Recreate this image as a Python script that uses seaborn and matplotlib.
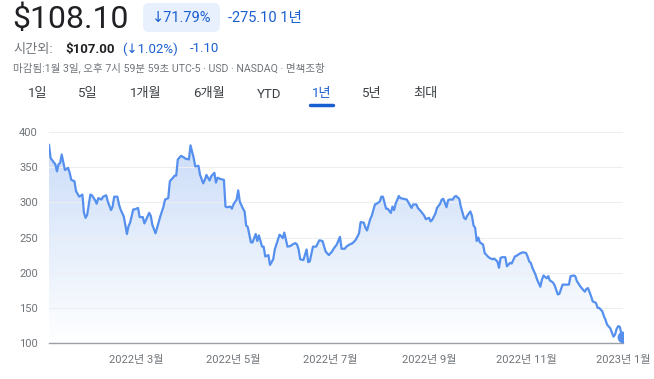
import matplotlib.dates as mdates
import matplotlib.pyplot as plt
import numpy as np
import pandas as pd
import seaborn as sns
from matplotlib.colors import LinearSegmentedColormap
from matplotlib.patches import FancyBboxPatch
from matplotlib.transforms import IdentityTransform

# Day of year (0 = 2022-01-01) for each point
day_of_year = [
    4, 5, 8, 9, 10, 11, 12, 14, 16, 17, 18, 20, 21, 23, 25, 26, 27, 28, 30, 31,
    33, 34, 35, 37, 38, 40, 41, 43, 44, 45, 47, 48, 49, 51, 52, 53, 54, 55, 57, 58,
    60, 61, 63, 64, 65, 67, 68, 69, 71, 72, 74, 76, 77, 79, 80, 82, 83, 84, 85, 87,
    88, 90, 92, 93, 95, 96, 98, 99, 101, 102, 103, 105, 106, 108, 109, 110, 112, 114, 115, 116,
    118, 119, 120, 122, 123, 124, 126, 127, 128, 129, 130, 131, 132, 134, 135, 136, 137, 138, 139, 140,
    142, 143, 145, 146, 148, 149, 150, 151, 152, 154, 156, 157, 159, 160, 161, 162, 164, 166, 167, 168,
    170, 171, 172, 174,
    176, 178, 180, 182, 183, 185, 187, 188, 190, 191, 193, 195, 197, 199, 200, 202, 203, 204, 206, 207,
    209, 210, 212, 213, 214, 216, 217, 219, 220, 221, 222, 224, 225, 227, 229, 230, 232, 233, 235, 236,
    238, 240, 241, 243, 244, 245, 247, 248, 250, 251, 252, 254, 255, 256, 258, 259, 260, 262, 263, 265,
    266, 267, 269, 270, 271, 272, 273, 274, 275, 277, 278, 280, 281, 283, 284, 286, 287, 288, 289, 291,
    292, 294, 295, 297, 298, 300, 302, 304, 305, 306, 307, 308, 310, 311, 313, 314, 315, 317, 318, 319,
    321, 322, 324, 325, 327, 328, 330, 331, 332, 334, 335, 336, 338, 339, 341, 342, 343, 345, 346, 348,
    349, 350, 352, 353, 354, 355, 357, 359, 360, 361, 362, 363, 364, 365,
]
prices = [
    382, 363, 354, 344, 354, 356, 368, 346, 349, 342, 332, 330, 316, 308, 311, 285, 278, 282, 311, 310,
    303, 298, 306, 304, 308, 310, 301, 289, 294, 308, 308, 297, 290, 280, 268, 255, 266, 271, 290, 290,
    292, 279, 279, 270, 275, 285, 281, 268, 256, 264, 280, 294, 304, 306, 330, 335, 338, 338, 361, 366,
    365, 362, 361, 381, 363, 351, 352, 339, 327, 332, 339, 331, 337, 342, 328, 335, 333, 332, 294, 293,
    294, 291, 297, 304, 317, 301, 291, 287, 267, 265, 254, 243, 243, 255, 245, 253, 245, 237, 237, 223,
    225, 211, 219, 233, 247, 254, 252, 249, 257, 237, 238, 240, 242, 240, 233, 219, 218, 233, 215, 216,
    237, 237, 237, 246,
    245, 230, 225, 230, 234, 240, 251, 234, 234, 237, 240, 242, 247, 256, 272, 271, 264, 260, 276, 281,
    297, 298, 301, 308, 308, 291, 291, 285, 294, 289, 298, 309, 306, 305, 304, 300, 292, 297, 297, 292,
    287, 281, 276, 278, 273, 275, 284, 292, 298, 304, 305, 293, 303, 304, 304, 308, 309, 305, 294, 278,
    276, 281, 287, 281, 267, 264, 245, 250, 243, 240, 228, 223, 221, 219, 220, 216, 207, 221, 222, 222,
    209, 214, 213, 223, 224, 227, 229, 228, 223, 216, 214, 207, 197, 190, 180, 190, 196, 192, 195, 189,
    186, 182, 169, 170, 183, 183, 183, 183, 195, 196, 195, 188, 181, 178, 173, 177, 178, 166, 159, 157,
    150, 150, 145, 138, 133, 126, 121, 109, 112, 120, 124, 123, 113, 108,
]
tick_dates = ["2022-03-01", "2022-05-01", "2022-07-01", "2022-09-01", "2022-11-01", "2023-01-01"]
tick_labels = ["2022년 3월", "2022년 5월", "2022년 7월", "2022년 9월", "2022년 11월", "2023년 1월"]
y_ticks = [100, 150, 200, 250, 300, 350, 400]
range_tabs = ["1일", "5일", "1개월", "6개월", "YTD", "1년", "5년", "최대"]
tab_centers = [38, 88, 146, 209, 269, 322, 372, 425]

dates = pd.Timestamp("2022-01-01") + pd.to_timedelta(day_of_year, unit="D")
df = pd.DataFrame({"date": dates, "price": prices})

sns.set_style("white")
# DejaVu before the CJK font so the arrows stay narrow
plt.rcParams["font.family"] = ["Roboto", "DejaVu Sans", "Noto Sans CJK KR"]

W, H = 654, 379
fig = plt.figure(figsize=(W / 100, H / 100), dpi=100)
ax = fig.add_axes([49 / W, 1 - 343 / H, (623 - 49) / W, (343 - 132) / H])

blue = "#5590ee"
grey = "#70757a"
dark = "#202124"
link = "#1a5fd0"

# gradient area under the line
x_num = mdates.date2num(df["date"])
fade = LinearSegmentedColormap.from_list("fade", ["#ffffff", "#c8dbf8"])
grad = np.linspace(0, 1, 256).reshape(-1, 1)
im = ax.imshow(grad, extent=[x_num.min(), x_num.max(), 100, 400], origin="lower",
               aspect="auto", cmap=fade, zorder=0)
poly = ax.fill_between(x_num, df["price"], 100, color="none", lw=0)
im.set_clip_path(poly.get_paths()[0], transform=ax.transData)

sns.lineplot(data=df, x="date", y="price", ax=ax, color=blue, lw=1.6, zorder=3)
ax.plot(df["date"].iloc[-1], df["price"].iloc[-1], "o", color=blue, ms=7.5, zorder=4)

ax.set_xlim(x_num.min(), x_num.max())
ax.set_ylim(100, 400)
ax.set_yticks(y_ticks)
ax.set_xticks(mdates.date2num(pd.to_datetime(tick_dates)))
ax.set_xticklabels(tick_labels)
ax.set_xlabel("")
ax.set_ylabel("")
ax.grid(axis="y", color="#eceef1", lw=0.8)
ax.set_axisbelow(True)
for side in ["top", "right", "left"]:
    ax.spines[side].set_visible(False)
ax.spines["bottom"].set_color("#9aa0a6")
ax.spines["bottom"].set_linewidth(1)
ax.tick_params(axis="y", length=0, pad=8, labelsize=8, labelcolor=grey)
ax.tick_params(axis="x", length=4, width=1, color="#9aa0a6", pad=5, labelsize=8, labelcolor=grey)


def px(x, y):
    return x / W, 1 - y / H


# header
fig.text(*px(12, 19), "$108.10", fontsize=23, color=dark, va="center")
fig.patches.append(FancyBboxPatch((143, H - 32), 77, 29, boxstyle="round,pad=0,rounding_size=6",
                                  transform=IdentityTransform(), fc="#e8f0fe", ec="none"))
fig.text(*px(152, 18), "↓71.79%", fontsize=10.5, color=link, va="center")
fig.text(*px(228, 18), "-275.10 1년", fontsize=10.5, color=link, va="center")

fig.text(*px(13, 49), "시간외:", fontsize=9.5, color=grey, va="center")
fig.text(*px(65, 49), "$107.00", fontsize=9.5, color=dark, weight="bold", va="center")
fig.text(*px(122, 49), "(↓1.02%)", fontsize=9.5, color=link, va="center")
fig.text(*px(190, 49), "-1.10", fontsize=9.5, color=link, va="center")
fig.text(*px(13, 68), "마감됨:1월 3일, 오후 7시 59분 59초 UTC-5 · USD · NASDAQ · 면책조항",
         fontsize=7.6, color=grey, va="center")

for label, cx in zip(range_tabs, tab_centers):
    color = link if label == "1년" else "#3c4043"
    fig.text(*px(cx, 94), label, fontsize=9.5, color=color, ha="center", va="center")
fig.lines.append(plt.Line2D([310 / W, 333 / W], [1 - 105 / H] * 2, transform=fig.transFigure,
                            color=link, lw=2.5, solid_capstyle="round"))

fig.savefig("out.png", dpi=100)
